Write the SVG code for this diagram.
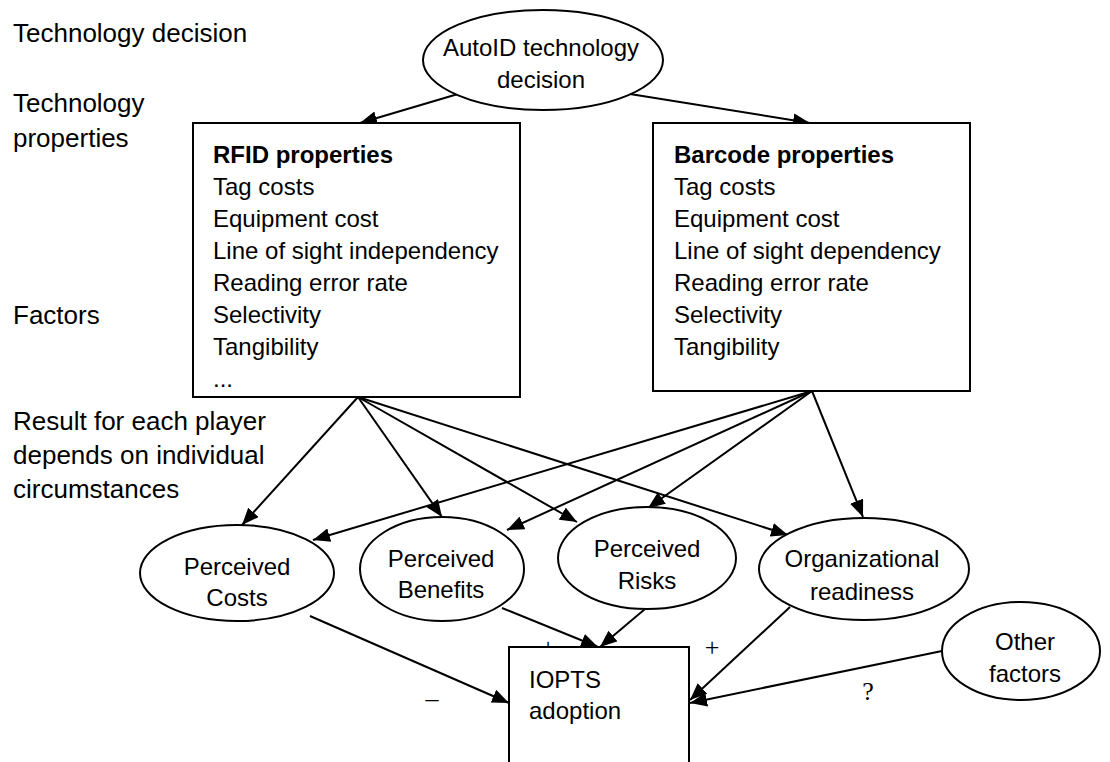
<svg xmlns="http://www.w3.org/2000/svg" width="1110" height="762" viewBox="0 0 1110 762">
  <style>
    .lbl { font-family: "Liberation Sans", Arial, sans-serif; font-size: 26px; fill: #000; }
    .txt { font-family: "Liberation Sans", Arial, sans-serif; font-size: 24px; fill: #000; }
    .bold { font-weight: bold; }
    .mid { text-anchor: middle; }
    .sign { font-family: "Liberation Serif", "Times New Roman", serif; font-size: 26px; fill: #000; }
    .shape { fill: #fff; stroke: #000; stroke-width: 2; }
    .edge { fill: none; stroke: #000; stroke-width: 2; marker-end: url(#arrow); }
  </style>
  <defs>
    <marker id="arrow" markerUnits="userSpaceOnUse" markerWidth="18" markerHeight="14" refX="17" refY="7" orient="auto">
      <path d="M0,0 L17,7 L0,14 z" fill="#000"/>
    </marker>
  </defs>

  <rect width="1110" height="762" fill="#fff"/>

  <!-- level captions on the left -->
  <g id="captions">
    <text class="lbl" x="13" y="42">Technology decision</text>
    <text class="lbl" x="13" y="112">Technology</text>
    <text class="lbl" x="13" y="147">properties</text>
    <text class="lbl" x="13" y="324">Factors</text>
    <text class="lbl" x="13" y="430">Result for each player</text>
    <text class="lbl" x="13" y="464">depends on individual</text>
    <text class="lbl" x="13" y="498">circumstances</text>
  </g>

  <!-- connectors and their sign labels -->
  <g id="connectors">
    <line class="edge" x1="458" y1="94" x2="360" y2="123"/>
    <line class="edge" x1="630" y1="94" x2="810" y2="123"/>

    <line class="edge" x1="358" y1="397" x2="242" y2="525"/>
    <line class="edge" x1="358" y1="397" x2="442" y2="517"/>
    <line class="edge" x1="358" y1="397" x2="577" y2="522"/>
    <line class="edge" x1="358" y1="397" x2="788" y2="535"/>

    <line class="edge" x1="812" y1="391" x2="313" y2="540"/>
    <line class="edge" x1="812" y1="391" x2="507" y2="530"/>
    <line class="edge" x1="812" y1="391" x2="648" y2="508"/>
    <line class="edge" x1="812" y1="391" x2="863" y2="517"/>

    <line class="edge" x1="310" y1="616" x2="509" y2="703"/>
    <line class="edge" x1="502" y1="608" x2="598" y2="647"/>
    <line class="edge" x1="645" y1="609" x2="600" y2="647"/>
    <line class="edge" x1="790" y1="607" x2="690" y2="700"/>
    <line class="edge" x1="942" y1="651" x2="690" y2="703"/>

    <text class="sign mid" x="548" y="656">+</text>
    <text class="sign mid" x="712" y="656">+</text>
    <text class="sign mid" x="432" y="707">–</text>
    <text class="sign mid" x="868" y="700">?</text>
  </g>

  <g id="autoid">
    <ellipse class="shape" cx="543" cy="60" rx="120" ry="50"/>
    <text class="txt mid" x="541" y="56">AutoID technology</text>
    <text class="txt mid" x="541" y="88">decision</text>
  </g>

  <g id="rfid">
    <rect class="shape" x="193" y="123" width="327" height="274"/>
    <text class="txt bold" x="213" y="163">RFID properties</text>
    <text class="txt" x="213" y="195">Tag costs</text>
    <text class="txt" x="213" y="227">Equipment cost</text>
    <text class="txt" x="213" y="259">Line of sight independency</text>
    <text class="txt" x="213" y="291">Reading error rate</text>
    <text class="txt" x="213" y="323">Selectivity</text>
    <text class="txt" x="213" y="355">Tangibility</text>
    <text class="txt" x="213" y="387">...</text>
  </g>

  <g id="barcode">
    <rect class="shape" x="653" y="123" width="317" height="268"/>
    <text class="txt bold" x="674" y="163">Barcode properties</text>
    <text class="txt" x="674" y="195">Tag costs</text>
    <text class="txt" x="674" y="227">Equipment cost</text>
    <text class="txt" x="674" y="259">Line of sight dependency</text>
    <text class="txt" x="674" y="291">Reading error rate</text>
    <text class="txt" x="674" y="323">Selectivity</text>
    <text class="txt" x="674" y="355">Tangibility</text>
  </g>

  <g id="costs">
    <ellipse class="shape" cx="237" cy="573" rx="97" ry="48"/>
    <text class="txt mid" x="237" y="575">Perceived</text>
    <text class="txt mid" x="237" y="606">Costs</text>
  </g>

  <g id="benefits">
    <ellipse class="shape" cx="442" cy="569" rx="82" ry="52"/>
    <text class="txt mid" x="441" y="567">Perceived</text>
    <text class="txt mid" x="441" y="598">Benefits</text>
  </g>

  <g id="risks">
    <ellipse class="shape" cx="647" cy="558" rx="89" ry="51"/>
    <text class="txt mid" x="647" y="557">Perceived</text>
    <text class="txt mid" x="647" y="589">Risks</text>
  </g>

  <g id="readiness">
    <ellipse class="shape" cx="864" cy="569" rx="105" ry="51"/>
    <text class="txt mid" x="862" y="567">Organizational</text>
    <text class="txt mid" x="862" y="600">readiness</text>
  </g>

  <g id="other">
    <ellipse class="shape" cx="1021" cy="651" rx="79" ry="49"/>
    <text class="txt mid" x="1025" y="650">Other</text>
    <text class="txt mid" x="1025" y="682">factors</text>
  </g>

  <g id="iopts">
    <rect class="shape" x="509" y="647" width="180" height="120"/>
    <text class="txt" x="529" y="688">IOPTS</text>
    <text class="txt" x="529" y="719">adoption</text>
  </g>
</svg>
